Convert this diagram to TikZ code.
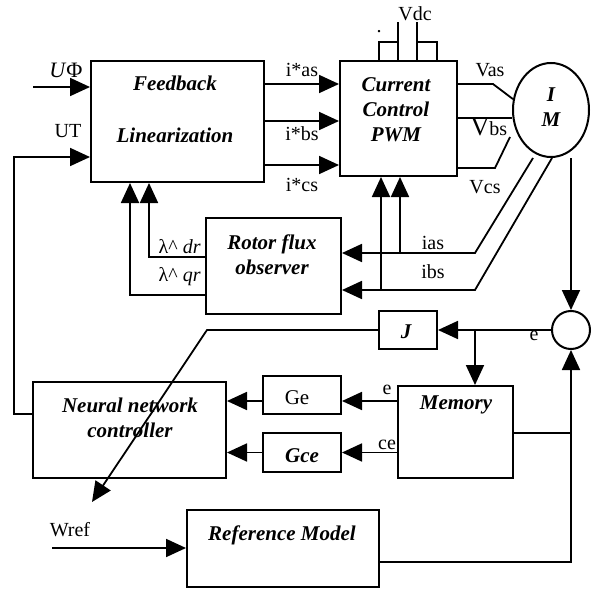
\documentclass[tikz,border=0pt]{standalone}
\usepackage{fontspec}
\setmainfont{Liberation Serif}
\usetikzlibrary{arrows.meta,calc,shapes.geometric}
\tikzset{
  blk/.style={
    draw,
    line width=1pt,
    inner sep=0pt
  },
  btxt/.style={
    align=center,
    inner sep=0pt,
    font=\fontsize{10.5}{12.5}\selectfont\bfseries\itshape
  },
  lbl/.style={
    inner sep=0pt,
    font=\fontsize{10}{12}\selectfont
  },
  wire/.style={
    line width=0.9pt
  },
  arrow/.style={
    -{Triangle[length=10pt,width=9pt]},
    line width=0.9pt
  }
}

\begin{document}
\begin{tikzpicture}[x=0.5pt,y=-0.5pt]
\useasboundingbox (0,0) rectangle (601,589);
% blocks
\node[blk, minimum width=86.5pt, minimum height=60.5pt] (fl) at (177.5,121.5) {};
\node[blk, minimum width=58.5pt, minimum height=57.5pt] (pwm) at (398.5,118.5) {};
\node[blk, ellipse, minimum width=38pt, minimum height=47pt] (im) at (551,110) {};
\node[blk, minimum width=67.5pt, minimum height=48pt] (rfo) at (273.5,266) {};
\node[blk, circle, minimum size=19pt] (sum) at (571,330) {};
\node[blk, minimum width=29pt, minimum height=19pt] (jb) at (408,330) {};
\node[blk, minimum width=57.5pt, minimum height=46pt] (mem) at (455.5,432) {};
\node[blk, minimum width=96.5pt, minimum height=48pt] (nnc) at (129.5,430) {};
\node[blk, minimum width=39pt, minimum height=19pt] (ge) at (302,395) {};
\node[blk, minimum width=39pt, minimum height=19.5pt] (gce) at (302,452.5) {};
\node[blk, minimum width=96pt, minimum height=38.5pt] (ref) at (283,548.5) {};
% block texts
\node[btxt] (flt) at (175,109) {Feedback\\[13.5pt]Linearization};
\node[btxt] (pwmt) at (396,110) {Current\\Control\\PWM};
\node[btxt] (imt) at (551,107) {I\\M};
\node[btxt] (rfot) at (272,255) {Rotor flux\\observer};
\node[btxt] (jt) at (406,332) {J};
\node[btxt] (memt) at (456,405) {Memory};
\node[btxt] (nnct) at (130,418) {Neural network\\controller};
\node[lbl, font=\fontsize{10.5}{12}\selectfont] (get) at (297,398) {Ge};
\node[btxt] (gcet) at (302,456) {Gce};
\node[btxt] (reft) at (282,535) {Reference Model};
% free ends
\coordinate (uphi) at (33,87);
\coordinate (wref) at (52,548);
\coordinate (vdca) at (398,22);
\coordinate (vdcb) at (417,22);
\coordinate (ia0) at (533,158);
\coordinate (ib0) at (552,158);
\coordinate (wm0) at (571,158);
\coordinate (vcs) at (510,137);
\coordinate (wtip) at (92,502);
% inputs
\draw[arrow] (uphi) -- (fl.west |- uphi);
\draw[arrow] (nnc.west |- 0,414) -- (14,414) -- (14,157) -- (fl.west |- 0,157);
\foreach \y in {84,121,165}
  \draw[arrow] (fl.east |- 0,\y) -- (pwm.west |- 0,\y);
% dc link
\draw[wire] (vdca) -- (pwm.north -| vdca);
\draw[wire] (vdcb) -- (pwm.north -| vdcb);
\draw[wire] (pwm.north -| 379,0) -- (379,42) -- (398,42);
\draw[wire] (417,42) -- (437,42) -- (pwm.north -| 437,0);
% voltages
\draw[wire] (pwm.east |- 0,84) -- (493,84) -- (im.164);
\draw[wire] (pwm.east |- 0,118) -- (im.west |- 0,118);
\draw[wire] (pwm.east |- 0,168) -- (495,168) -- (vcs);
% currents
\draw[arrow] (ia0) -- (475,253) -- (rfo.east |- 0,253);
\draw[arrow] (ib0) -- (475,290) -- (rfo.east |- 0,290);
\draw[arrow] (400,253) -- (pwm.south -| 400,0);
\draw[arrow] (381,290) -- (pwm.south -| 381,0);
% fluxes
\draw[arrow] (rfo.west |- 0,257) -- (149,257) -- (fl.south -| 149,0);
\draw[arrow] (rfo.west |- 0,295) -- (130,295) -- (fl.south -| 130,0);
% speed loop
\draw[arrow] (wm0) -- (sum.north);
\draw[arrow] (sum.west) -- (jb.east);
\draw[arrow] (475,330) -- (mem.north -| 475,0);
\draw[arrow] (jb.west) -- (207,330) -- (wtip);
\draw[arrow] (mem.west |- 0,401) -- (ge.east |- 0,401);
\draw[arrow] (ge.west |- 0,401) -- (nnc.east |- 0,401);
\draw[arrow] (mem.west |- gce.east) -- (gce.east);
\draw[arrow] (gce.west) -- (nnc.east |- gce.west);
\draw[wire] (mem.east |- 0,433) -- (sum.south |- 0,433);
\draw[arrow] (ref.east |- 0,562) -| (sum.south);
\draw[arrow] (wref) -- (ref.west |- wref);
% labels
\node[lbl, font=\fontsize{11}{12}\selectfont] (luphi) at (66,70) {\textit{U}Φ};
\node[lbl] (lut) at (68,131) {UT};
\node[lbl] (lias) at (302,70) {i*as};
\node[lbl] (libs) at (302,134) {i*bs};
\node[lbl] (lics) at (302,185) {i*cs};
\node[lbl] (lvdc) at (415,14) {Vdc};
\node[lbl] (ldot) at (379,32) {.};
\node[lbl] (lvas) at (490,70) {Vas};
\node[lbl] (lvbs) at (489,127) {{\fontsize{13}{14}\selectfont V}bs};
\node[lbl] (lvcs) at (485,187) {Vcs};
\node[lbl] (lia) at (433,243) {ias};
\node[lbl] (lib) at (433,272) {ibs};
\node[lbl, anchor=east] (ldr) at (201,247) {λ\textasciicircum\ \textit{dr}};
\node[lbl, anchor=east] (lqr) at (201,277) {λ\textasciicircum\ \textit{qr}};
\node[lbl] (le1) at (534,336) {e};
\node[lbl] (le2) at (387,390) {e};
\node[lbl] (lce) at (387,445) {ce};
\node[lbl] (lwref) at (70,530) {Wref};
\end{tikzpicture}
\end{document}
